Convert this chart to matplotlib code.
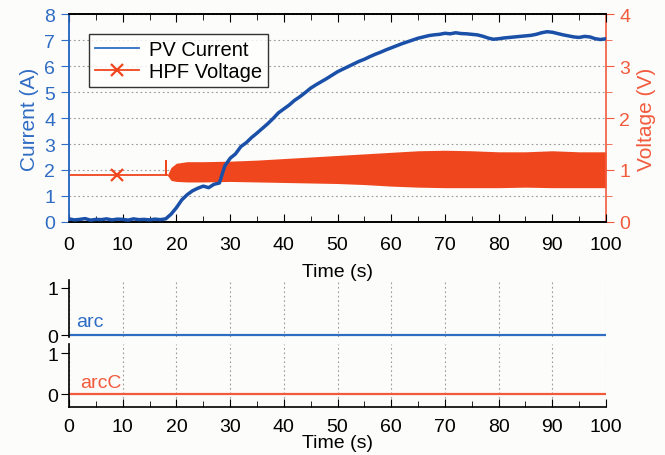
import matplotlib
matplotlib.use("Agg")
import matplotlib.pyplot as plt
from matplotlib.lines import Line2D
from matplotlib import ticker
import numpy as np

plt.rcParams["font.family"] = ["Liberation Sans", "DejaVu Sans"]

# ---- data ----
time_s = np.arange(0, 101)
pv_current = [
    0.12, 0.08, 0.10, 0.13, 0.07, 0.10, 0.09, 0.12, 0.08, 0.11,
    0.10, 0.07, 0.12, 0.09, 0.10, 0.08, 0.11, 0.09, 0.12, 0.30,
    0.55, 0.85, 1.05, 1.20, 1.30, 1.38, 1.32, 1.45, 1.50, 2.15,
    2.45, 2.62, 2.90, 3.05, 3.25, 3.42, 3.60, 3.78, 3.98, 4.20,
    4.35, 4.50, 4.68, 4.82, 4.98, 5.15, 5.28, 5.40, 5.52, 5.65,
    5.78, 5.88, 5.98, 6.08, 6.18, 6.26, 6.36, 6.45, 6.53, 6.62,
    6.70, 6.78, 6.86, 6.93, 7.00, 7.07, 7.12, 7.17, 7.20, 7.22,
    7.26, 7.24, 7.28, 7.25, 7.24, 7.22, 7.20, 7.15, 7.08, 7.03,
    7.05, 7.08, 7.10, 7.12, 7.14, 7.16, 7.18, 7.22, 7.28, 7.32,
    7.30, 7.25, 7.20, 7.16, 7.12, 7.10, 7.14, 7.12, 7.05, 7.02,
    7.05,
]

# HPF voltage before the oscillation starts (flat line + switch spike)
volt_flat_t = [0, 9, 18, 18, 18, 18.3]
volt_flat_v = [0.9, 0.9, 0.9, 1.17, 0.9, 0.9]

# envelope of the oscillating HPF voltage
env_t = [18.3, 19, 20, 22, 25, 30, 35, 40, 45, 50, 55, 60, 65, 70, 75, 80, 85, 90, 95, 100]
env_upper = [0.9, 1.05, 1.13, 1.16, 1.16, 1.17, 1.19, 1.22, 1.25, 1.28, 1.31, 1.34,
             1.37, 1.38, 1.37, 1.35, 1.35, 1.37, 1.35, 1.35]
env_lower = [0.9, 0.80, 0.78, 0.77, 0.77, 0.78, 0.77, 0.76, 0.75, 0.74, 0.72, 0.69,
             0.67, 0.66, 0.66, 0.66, 0.67, 0.66, 0.66, 0.66]

arc_t = [0, 100]
arc = [0, 0]
arc_c = [0, 0]

blue = "#1a50a8"
blue_txt = "#2f6cc4"
red = "#f0461e"
red_txt = "#f25a3c"
grid_kw = dict(color="#9a9a9a", linestyle=(0, (1.5, 2.5)), linewidth=0.8)
fs = 14
lfs = 15

fig = plt.figure(figsize=(6.65, 4.56), dpi=100)
fig.patch.set_facecolor("#fcfcfa")

# ---- top panel ----
ax = fig.add_axes([0.1038, 0.511, 0.8075, 0.456])
ax2 = ax.twinx()
ax.set_zorder(ax2.get_zorder() + 1)
ax.patch.set_visible(False)

ax2.fill_between(env_t, env_lower, env_upper, color=red, linewidth=0, zorder=2)
volt_line, = ax2.plot(volt_flat_t, volt_flat_v, color=red, linewidth=1.3,
                      marker="x", markevery=[1], markersize=9, markeredgewidth=1.6, zorder=3)
cur_line, = ax.plot(time_s, pv_current, color=blue, linewidth=2.5, zorder=3)

ax.set_xlim(0, 100)
ax.set_ylim(0, 8)
ax2.set_ylim(0, 4)

ax.xaxis.set_major_locator(ticker.MultipleLocator(10))
ax.xaxis.set_minor_locator(ticker.MultipleLocator(5))
ax.yaxis.set_major_locator(ticker.MultipleLocator(1))
ax2.yaxis.set_major_locator(ticker.MultipleLocator(1))
ax2.yaxis.set_minor_locator(ticker.MultipleLocator(0.5))

ax2.grid(True, which="both", axis="y", **grid_kw)
ax2.xaxis.set_major_locator(ticker.MultipleLocator(10))
ax2.grid(True, which="major", axis="x", **grid_kw)

ax.tick_params(axis="x", which="both", direction="in", top=True, labelsize=fs, pad=10)
ax.tick_params(axis="x", which="major", length=6)
ax.tick_params(axis="x", which="minor", length=4)
ax.tick_params(axis="y", direction="out", length=6, colors=blue_txt, labelsize=fs, pad=4)
ax2.tick_params(axis="y", which="both", direction="out", colors=red_txt, labelsize=fs)
ax2.tick_params(axis="y", which="major", length=6)
ax2.tick_params(axis="y", which="minor", length=4)

ax.spines["left"].set_color(blue_txt)
ax2.spines["left"].set_color(blue_txt)
ax2.spines["right"].set_color(red_txt)
ax.spines["right"].set_visible(False)
for s in ["left", "right", "top", "bottom"]:
    ax.spines[s].set_linewidth(1.2)
    ax2.spines[s].set_linewidth(1.2)

ax.set_xlabel("Time (s)", fontsize=fs, labelpad=7)
ax.set_ylabel("Current (A)", fontsize=lfs, color=blue_txt, labelpad=4)
ax2.set_ylabel("Voltage (V)", fontsize=lfs, color=red_txt, labelpad=5)

handles = [
    Line2D([], [], color=blue_txt, linewidth=1.3),
    Line2D([], [], color=red, linewidth=1.3, marker="x", markersize=9, markeredgewidth=1.6),
]
leg = ax.legend(handles, ["PV Current", "HPF Voltage"], loc="upper left",
                bbox_to_anchor=(0.037, 0.905), fontsize=14.5, frameon=True,
                fancybox=False, edgecolor="black", handlelength=2.2,
                borderpad=0.3, labelspacing=0.15, handletextpad=0.5, borderaxespad=0)
leg.get_frame().set_linewidth(1.0)

# ---- arc panels ----
axa = fig.add_axes([0.1038, 0.259, 0.8075, 0.125])
axb = fig.add_axes([0.1038, 0.105, 0.8075, 0.138])

axa.plot(arc_t, arc, color=blue_txt, linewidth=1.6)
axb.plot(arc_t, arc_c, color=red_txt, linewidth=1.6)
axa.set_ylim(-0.04, 1.17)
axb.set_ylim(-0.32, 1.22)
axa.text(1.3, 0.19, "arc", color=blue_txt, fontsize=fs)
axb.text(2.0, 0.17, "arcC", color=red_txt, fontsize=fs)

for a in (axa, axb):
    a.set_xlim(0, 100)
    a.patch.set_visible(False)
    a.spines["top"].set_visible(False)
    a.spines["right"].set_visible(False)
    a.spines["left"].set_linewidth(1.2)
    a.spines["bottom"].set_linewidth(1.2)
    a.set_yticks([0, 1])
    a.tick_params(axis="y", direction="out", length=6, labelsize=fs, pad=2)
    a.xaxis.set_major_locator(ticker.MultipleLocator(10))
    a.xaxis.set_minor_locator(ticker.MultipleLocator(5))
    a.grid(True, which="major", axis="x", **grid_kw)

axa.spines["bottom"].set_visible(False)
axa.tick_params(axis="x", which="both", bottom=False, labelbottom=False)
axb.tick_params(axis="x", which="both", direction="in", labelsize=fs, pad=8)
axb.tick_params(axis="x", which="major", length=6)
axb.tick_params(axis="x", which="minor", length=4)
axb.set_xlabel("Time (s)", fontsize=fs, labelpad=-1)

fig.savefig("out.png", dpi=100, facecolor=fig.get_facecolor())
